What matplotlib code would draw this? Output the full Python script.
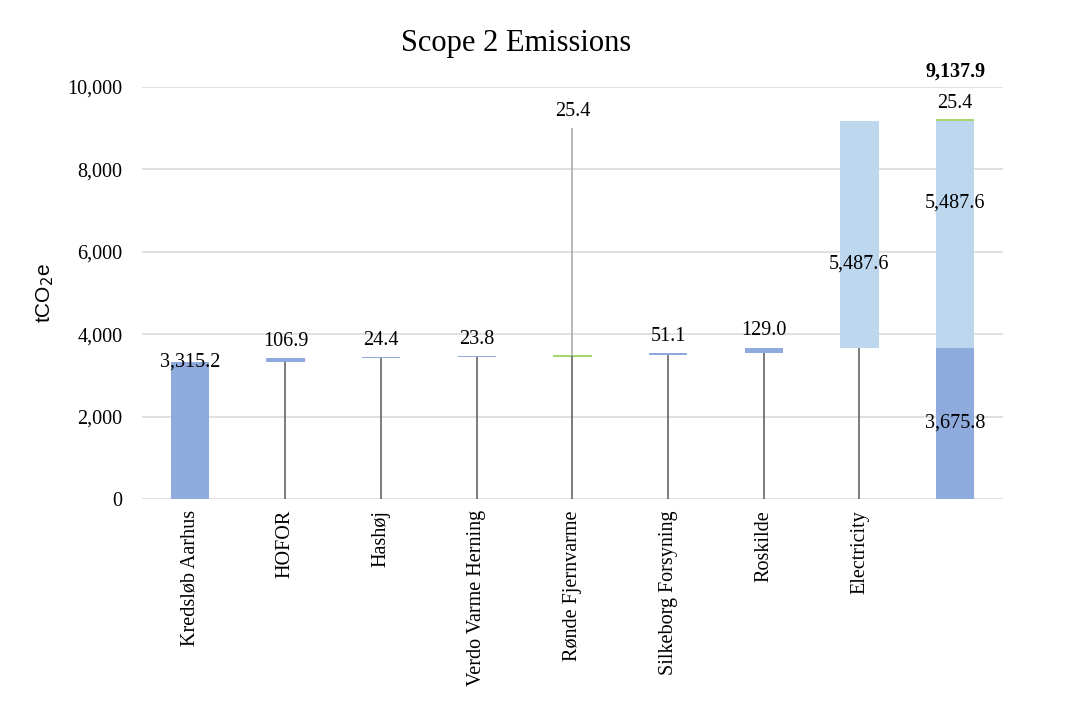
import matplotlib
matplotlib.use("Agg")
import matplotlib.pyplot as plt

categories = ["Kredsløb Aarhus", "HOFOR", "Hashøj", "Verdo Varme Herning",
              "Rønde Fjernvarme", "Silkeborg Forsyning", "Roskilde", "Electricity", ""]
step_values = [3315.2, 106.9, 24.4, 23.8, 25.4, 51.1, 129.0, 5487.6]
step_labels = ["3,315.2", "106.9", "24.4", "23.8", "25.4", "51.1", "129.0", "5,487.6"]
total_parts = [3675.8, 5487.6, 25.4]
total_part_labels = ["3,675.8", "5,487.6", "25.4"]
total_label = "9,137.9"
yticks = [0, 2000, 4000, 6000, 8000, 10000]

DARK = "#8faadc"
LIGHT = "#bdd7ee"
GREEN = "#92d050"
LINE = "#595959"
FS = 14.5

plt.rcParams["font.family"] = ["Liberation Serif", "DejaVu Serif"]

fig = plt.figure(figsize=(10.67, 7.06), dpi=100)
ax = fig.add_axes([0.133, 0.2932, 0.807, 0.5836])

width = 0.4
colors = [DARK, DARK, DARK, DARK, GREEN, DARK, DARK, LIGHT]

base = 0.0
for i, (v, lab, c) in enumerate(zip(step_values, step_labels, colors)):
    if c == GREEN:
        ax.hlines(base, i - width / 2, i + width / 2, color=GREEN, lw=1.2, zorder=3)
    else:
        ax.bar(i, v, width=width, bottom=base, color=c, zorder=2)
    if i > 0:
        ax.vlines(i, 0, base, color=LINE, lw=1.1, zorder=3)
    if i == 0:
        ax.text(i, base + v, lab, ha="center", va="center", fontsize=FS, zorder=4)
    elif c == GREEN:
        ax.vlines(i, base, 9000, color="#a6a6a6", lw=1.1, zorder=3)
        ax.annotate(lab, (i, 9000), xytext=(0, 12), textcoords="offset points",
                    ha="center", va="center", fontsize=FS)
    elif c == LIGHT:
        ax.text(i, base + v * 0.37, lab, ha="center", va="center", fontsize=FS, zorder=4)
    else:
        ax.annotate(lab, (i, base + v), xytext=(0, 12), textcoords="offset points",
                    ha="center", va="center", fontsize=FS)
    base += v

# total column
t = len(categories) - 1
bottom = 0.0
for k, (v, lab) in enumerate(zip(total_parts, total_part_labels)):
    if k == 2:
        ax.hlines(bottom + v, t - width / 2, t + width / 2, color=GREEN, lw=1.2, zorder=3)
        ax.annotate(lab, (t, bottom + v), xytext=(0, 12), textcoords="offset points",
                    ha="center", va="center", fontsize=FS)
    else:
        ax.bar(t, v, width=width, bottom=bottom, color=[DARK, LIGHT][k], zorder=2)
        frac = 0.5 if k == 0 else 0.64
        ax.text(t, bottom + v * frac, lab, ha="center", va="center", fontsize=FS, zorder=4)
    bottom += v
ax.annotate(total_label, (t, bottom), xytext=(0, 35), textcoords="offset points",
            ha="center", va="center", fontsize=FS, fontweight="bold", annotation_clip=False)

ax.set_xlim(-0.5, len(categories) - 0.5)
ax.set_ylim(0, 10000)
ax.set_yticks(yticks)
ax.set_yticklabels([f"{y:,}" for y in yticks], fontsize=FS)
ax.set_xticks(range(len(categories)))
ax.set_xticklabels(categories, rotation=90, fontsize=FS)
ax.tick_params(axis="both", length=0)
ax.tick_params(axis="y", pad=14)
ax.tick_params(axis="x", pad=8)
ax.grid(axis="y", color="#d9d9d9", lw=1.1, zorder=0)
ax.set_axisbelow(True)
for s in ax.spines.values():
    s.set_visible(False)

ax.set_ylabel(r"tCO$_2$e", fontsize=15, family=["Liberation Sans", "DejaVu Sans"], labelpad=8)
fig.text(0.484, 0.938, "Scope 2 Emissions", ha="center", va="center", fontsize=22)

fig.savefig("out.png", dpi=100)
